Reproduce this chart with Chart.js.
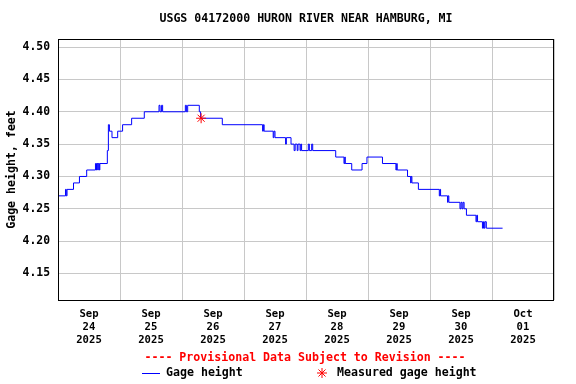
<!DOCTYPE html>
<html>
<head>
<meta charset="utf-8">
<script src="https://cdn.jsdelivr.net/npm/chart.js@4.4.1/dist/chart.umd.min.js"></script>
<style>
  html, body { margin: 0; padding: 0; background: #fff; }
</style>
</head>
<body>
<canvas id="chart" width="576" height="384"></canvas>
<script>
// Gage height changes: hours since Sep 24 2025 00:00, feet
const gageHours = [
  0, 2.9, 3.2, 3.5, 6.0, 8.3, 11.1, 14.5, 14.9, 15.1, 15.4, 15.6, 16.0, 16.2,
  19.1, 19.5, 19.9, 20.9, 23.1, 25.0, 28.5, 33.4, 39.1, 39.5, 40.1, 40.5,
  49.3, 49.7, 50.2, 54.7, 55.2, 63.6, 79.2, 79.5, 79.8, 83.3, 83.6, 84.0,
  88.1, 88.4, 90.2, 91.4, 91.8, 92.6, 92.9, 93.7, 94.0, 94.3, 96.9, 97.3,
  98.2, 98.6, 107.5, 110.7, 111.0, 111.2, 113.7, 117.7, 119.6, 125.6,
  130.8, 131.1, 131.3, 135.3, 136.5, 136.7, 137.0, 139.5, 147.6, 147.9,
  148.1, 150.8, 151.0, 151.3, 155.6, 156.0, 156.4, 156.8, 157.2, 158.1,
  161.8, 162.1, 162.4, 164.3, 164.7, 165.0, 165.3, 165.8, 172.1
];
const gageFeet = [
  4.27, 4.28, 4.27, 4.28, 4.29, 4.30, 4.31, 4.32, 4.31, 4.32, 4.31, 4.32, 4.31, 4.32,
  4.34, 4.38, 4.37, 4.36, 4.37, 4.38, 4.39, 4.40, 4.41, 4.40, 4.41, 4.40,
  4.41, 4.40, 4.41, 4.40, 4.39, 4.38, 4.37, 4.38, 4.37, 4.36, 4.37, 4.36,
  4.35, 4.36, 4.35, 4.34, 4.35, 4.34, 4.35, 4.34, 4.35, 4.34, 4.35, 4.34,
  4.35, 4.34, 4.33, 4.32, 4.33, 4.32, 4.31, 4.32, 4.33, 4.32,
  4.31, 4.32, 4.31, 4.30, 4.29, 4.30, 4.29, 4.28, 4.27, 4.28,
  4.27, 4.26, 4.27, 4.26, 4.25, 4.26, 4.25, 4.26, 4.25, 4.24,
  4.23, 4.24, 4.23, 4.22, 4.23, 4.22, 4.23, 4.22, 4.22
];
const measuredHours = [55.4];
const measuredFeet = [4.39];

const dayCenters = [12, 36, 60, 84, 108, 132, 156, 180];
const dayLabels = [
  ["Sep", "24", "2025"], ["Sep", "25", "2025"], ["Sep", "26", "2025"],
  ["Sep", "27", "2025"], ["Sep", "28", "2025"], ["Sep", "29", "2025"],
  ["Sep", "30", "2025"], ["Oct", "01", "2025"]
];
const yTicks = [4.15, 4.20, 4.25, 4.30, 4.35, 4.40, 4.45, 4.50];

const MONO = "'DejaVu Sans Mono', 'Liberation Mono', monospace";

// frame around the plot + provisional note + legend row
const usgsExtras = {
  id: "usgsExtras",
  afterDraw(chart) {
    const { ctx, chartArea: a } = chart;
    ctx.save();
    ctx.strokeStyle = "#000";
    ctx.lineWidth = 1;
    ctx.strokeRect(a.left + 0.5, a.top + 0.5, a.right - a.left - 1, a.bottom - a.top);

    ctx.font = "bold 11.6px " + MONO;
    ctx.textBaseline = "middle";
    ctx.textAlign = "center";
    ctx.fillStyle = "#ff0000";
    ctx.fillText("---- Provisional Data Subject to Revision ----", 305, 358);

    ctx.textAlign = "left";
    ctx.strokeStyle = "#0000ff";
    ctx.beginPath();
    ctx.moveTo(142, 373.5);
    ctx.lineTo(160, 373.5);
    ctx.stroke();
    ctx.fillStyle = "#000";
    ctx.fillText("Gage height", 166, 373);

    ctx.strokeStyle = "#ff0000";
    Chart.helpers.drawPoint(ctx, { pointStyle: "star", radius: 5, borderWidth: 1 }, 322, 373);
    ctx.fillStyle = "#000";
    ctx.fillText("Measured gage height", 337, 373);
    ctx.restore();
  },
};

new Chart(document.getElementById("chart"), {
  type: "line",
  data: {
    datasets: [
      {
        label: "Measured gage height",
        data: measuredHours.map((h, i) => ({ x: h, y: measuredFeet[i] })),
        showLine: false,
        pointStyle: "star",
        pointRadius: 5,
        pointBorderColor: "#ff0000",
        pointBorderWidth: 1,
        order: 0,
      },
      {
        label: "Gage height",
        data: gageHours.map((h, i) => ({ x: h, y: gageFeet[i] })),
        stepped: true,
        borderColor: "#0000ff",
        borderWidth: 1,
        pointRadius: 0,
        fill: false,
        order: 1,
      },
    ],
  },
  options: {
    responsive: false,
    animation: false,
    devicePixelRatio: 1,
    layout: { padding: { top: 0, right: 22, bottom: 34, left: 0 } },
    plugins: {
      legend: { display: false },
      tooltip: { enabled: false },
      title: {
        display: true,
        fullSize: false,
        text: "USGS 04172000 HURON RIVER NEAR HAMBURG, MI",
        color: "#000",
        font: { family: MONO, size: 11.6, weight: "bold", lineHeight: "14px" },
        padding: { top: 12, bottom: 13 },
      },
    },
    scales: {
      x: {
        type: "linear",
        min: 0,
        max: 192,
        afterBuildTicks: (scale) => {
          scale.ticks = dayCenters.map((v) => ({ value: v }));
        },
        afterFit: (scale) => {
          scale.height = 50;
        },
        grid: { offset: true, color: "#c8c8c8", drawTicks: false },
        border: { display: false },
        ticks: {
          autoSkip: false,
          maxRotation: 0,
          padding: 8,
          color: "#000",
          font: { family: MONO, size: 10.6, weight: "bold", lineHeight: "13px" },
          callback: (v, i) => dayLabels[i],
        },
      },
      y: {
        min: 4.109,
        max: 4.5125,
        afterBuildTicks: (scale) => {
          scale.ticks = yTicks.map((v) => ({ value: v }));
        },
        afterFit: (scale) => {
          scale.width = 58;
        },
        grid: { color: "#c8c8c8", drawTicks: false },
        border: { display: false },
        ticks: {
          padding: 8,
          color: "#000",
          font: { family: MONO, size: 11.4, weight: "bold" },
          callback: (v) => Number(v).toFixed(2),
        },
        title: {
          display: true,
          text: "Gage height, feet",
          color: "#000",
          padding: { top: 5, bottom: 0 },
          font: { family: MONO, size: 11.6, weight: "bold", lineHeight: "14px" },
        },
      },
    },
  },
  plugins: [usgsExtras],
});
</script>
</body>
</html>
